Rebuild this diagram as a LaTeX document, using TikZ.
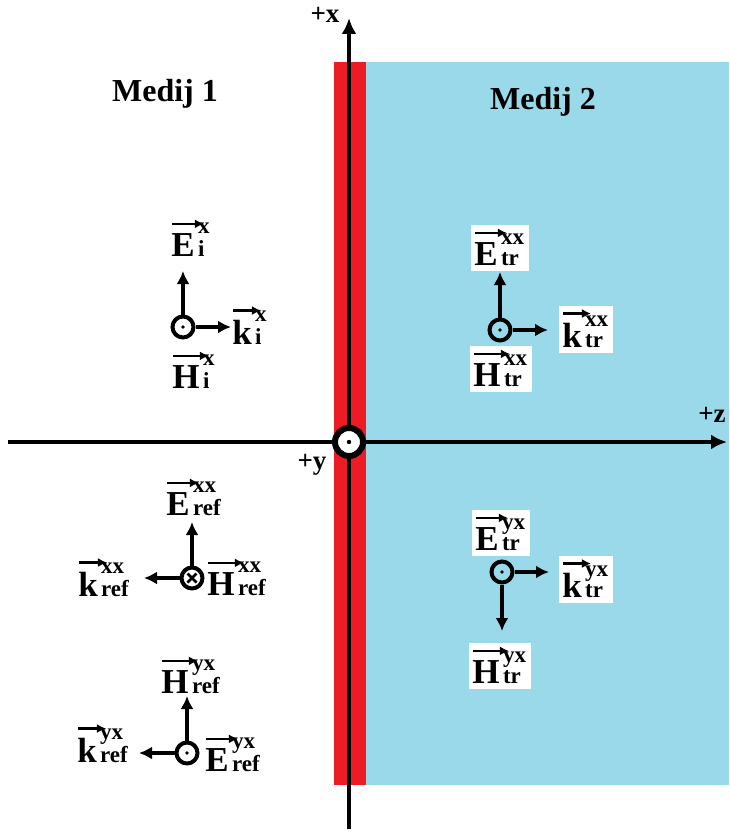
\documentclass[tikz,border=0pt]{standalone}
\usepackage{fontspec}
\setmainfont{Liberation Serif}
\usetikzlibrary{arrows.meta,calc}
\definecolor{medred}{RGB}{237,28,36}
\definecolor{medblue}{RGB}{153,217,234}
\pgfdeclarelayer{bg}
\pgfdeclarelayer{mid}
\pgfsetlayers{bg,mid,main}
\tikzset{
  vec/.style={line width=4.8pt,-{Latex[length=13pt,width=13pt]}},
  axis/.style={line width=4.5pt,-{Latex[length=16pt,width=15pt]}},
  src/.style={circle,draw,line width=4pt,minimum size=21pt,inner sep=0pt},
  lt/.style={font=\fontsize{35}{38}\selectfont\bfseries,inner sep=0pt,anchor=base},
  st/.style={font=\fontsize{23}{21}\selectfont\bfseries,inner sep=0pt,anchor=base west},
  ovarr/.style={line width=2.3pt,-{Latex[length=9pt,width=9pt]}},
  ttl/.style={font=\fontsize{32}{36}\selectfont\bfseries},
  axl/.style={font=\fontsize{27}{29}\selectfont\bfseries,inner sep=0pt}
}
% name, position (letter centre x, baseline y), letter, superscript, subscript
\newcommand\vlab[5]{%
  \node[lt] (#1) at (#2) {#3};
  \node[st] (#1s) at ($(#1.base east)+(3,0)$) {\begin{tabular}[b]{@{}l@{}}#4\\#5\end{tabular}};
  \draw[ovarr] ($(#1.north west)+(1,-9)$) -- ($(#1.north east)+(9,-9)$);
}
\newcommand\wbox[1]{%
  \begin{pgfonlayer}{mid}
  \fill[white] ($(#1.north west)+(-3,-17)$) rectangle ($(#1s.south east)+(5,-1)$);
  \end{pgfonlayer}
}
\begin{document}
\begin{tikzpicture}[x=1pt,y=-1pt]
\useasboundingbox (0,0) rectangle (729,832);
% media
\begin{pgfonlayer}{bg}
\fill[medblue] (366,62) rectangle (729,785);
\fill[medred] (334,62) rectangle (366,785);
\end{pgfonlayer}
% axes
\coordinate (zs) at (8,442);
\coordinate (ze) at (727,442);
\coordinate (xs) at (349,829);
\coordinate (xe) at (349,18);
\draw[axis] (zs) -- (ze);
\draw[axis] (xs) -- (xe);
\node[circle,draw,fill=white,line width=6pt,minimum size=28pt,inner sep=0pt] (o) at (349,442) {};
\fill (o) circle (2.2pt);
\node[axl] (lx) at (325,15) {+x};
\node[axl] (ly) at (312,465) {+y};
\node[axl] (lz) at (712,415) {+z};
\node[ttl] (m1) at (165,94) {Medij 1};
\node[ttl] (m2) at (543,102) {Medij 2};
% group 1: incident
\node[src] (c1) at (183,327) {};
\fill (c1) circle (1.8pt);
\coordinate (c1u) at (183,271);
\coordinate (c1r) at (231,327);
\draw[vec] (c1.north) -- (c1u);
\draw[vec] (c1.east) -- (c1r);
\vlab{e1}{183,256}{E}{x}{i}
\vlab{k1}{242,344}{k}{x}{i}
\vlab{h1}{186,388}{H}{x}{i}
% group 2: transmitted xx
\node[src] (c2) at (500,330) {};
\fill (c2) circle (1.8pt);
\coordinate (c2u) at (500,272);
\coordinate (c2r) at (548,330);
\draw[vec] (c2.north) -- (c2u);
\draw[vec] (c2.east) -- (c2r);
\vlab{e2}{486,265}{E}{xx}{tr}
\vlab{k2}{572,347}{k}{xx}{tr}
\vlab{h2}{487,386}{H}{xx}{tr}
\wbox{e2}\wbox{k2}\wbox{h2}
% group 3: reflected xx
\node[src,fill=white] (c3) at (192,578) {};
\draw[line width=2.5pt] ($(c3)+(-4.5,-4.5)$) -- ($(c3)+(4.5,4.5)$) ($(c3)+(-4.5,4.5)$) -- ($(c3)+(4.5,-4.5)$);
\coordinate (c3u) at (192,522);
\coordinate (c3l) at (144,578);
\draw[vec] (c3.north) -- (c3u);
\draw[vec] (c3.west) -- (c3l);
\vlab{e3}{178,515}{E}{xx}{ref}
\vlab{k3}{88,596}{k}{xx}{ref}
\vlab{h3}{221,595}{H}{xx}{ref}
% group 4: reflected yx
\node[src] (c4) at (187,753) {};
\fill (c4) circle (1.8pt);
\coordinate (c4u) at (187,696);
\coordinate (c4l) at (139,753);
\draw[vec] (c4.north) -- (c4u);
\draw[vec] (c4.west) -- (c4l);
\vlab{h4}{175,693}{H}{yx}{ref}
\vlab{k4}{87,762}{k}{yx}{ref}
\vlab{e4}{217,771}{E}{yx}{ref}
% group 5: transmitted yx
\node[src] (c5) at (502,572) {};
\fill (c5) circle (1.8pt);
\coordinate (c5d) at (502,631);
\coordinate (c5r) at (549,572);
\draw[vec] (c5.south) -- (c5d);
\draw[vec] (c5.east) -- (c5r);
\vlab{e5}{487,550}{E}{yx}{tr}
\vlab{k5}{572,597}{k}{yx}{tr}
\vlab{h5}{486,683}{H}{yx}{tr}
\wbox{e5}\wbox{k5}\wbox{h5}
\end{tikzpicture}
\end{document}
